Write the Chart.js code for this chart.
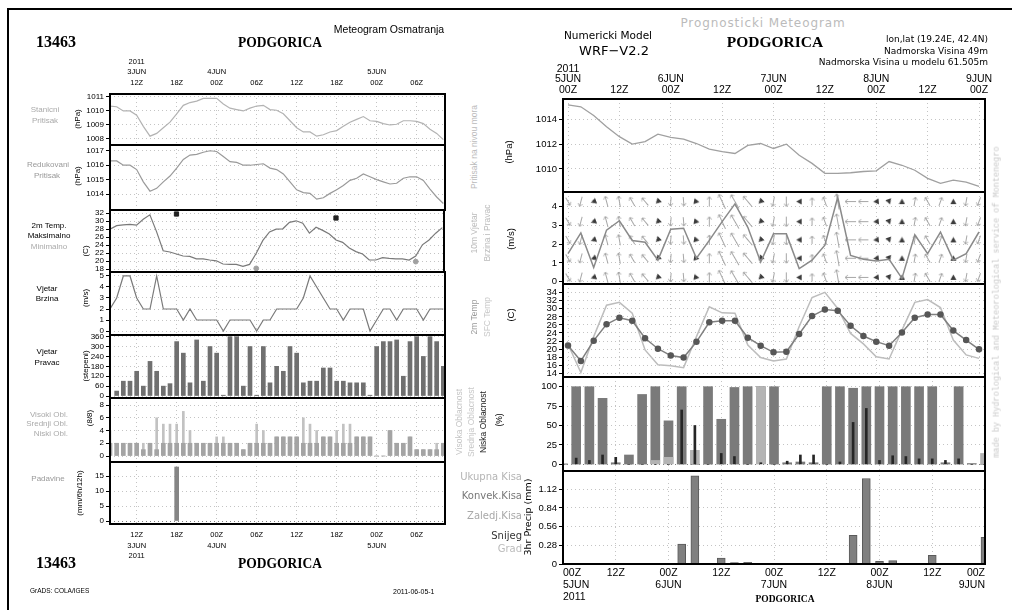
<!DOCTYPE html>
<html>
<head>
<meta charset="utf-8">
<script src="https://cdn.jsdelivr.net/npm/chart.js@4.4.0/dist/chart.umd.min.js"></script>
<style>
  body { margin: 0; background: #fff; }
  #page { position: relative; width: 1012px; height: 610px; overflow: hidden; background: #fff; font-family: 'Liberation Sans', sans-serif; }
  #page canvas { position: absolute; }
  .t { position: absolute; white-space: nowrap; line-height: 1; }
  .line { position: absolute; background: #000; }
</style>
</head>
<body>
<div id="page">
  <div class="line" style="left:7px;top:8px;width:2px;height:602px"></div>
  <div class="line" style="left:7px;top:8px;width:1005px;height:2px"></div>
</div>
<script>
// ---------- observations (left), hours since 3JUN 00Z ----------
const obsHours = [8,9,10,11,12,13,14,15,16,17,18,19,20,21,22,23,24,25,26,27,28,29,30,31,32,33,34,35,36,37,38,39,40,41,42,43,44,45,46,47,48,49,50,51,52,53,54,55,56,57,58];
const obsTickHours = [12, 18, 24, 30, 36, 42, 48, 54];
const obsTickTop = [['2011','3JUN','12Z'], ['18Z'], ['4JUN','00Z'], ['06Z'], ['12Z'], ['18Z'], ['5JUN','00Z'], ['06Z']];
const obsTickBottom = [['12Z','3JUN','2011'], ['18Z'], ['00Z','4JUN'], ['06Z'], ['12Z'], ['18Z'], ['00Z','5JUN'], ['06Z']];

const stationPress = [1010.34,1010.3,1010,1010,1009.7,1008.9,1008.2,1008.4,1008.8,1009.2,1009.8,1010.4,1010.6,1010.7,1010.9,1010.9,1010.9,1010.5,1010.2,1010.1,1010,1010.2,1010.35,1010.4,1010.1,1010.05,1009.8,1009.3,1008.8,1008.5,1008.5,1008.2,1008.3,1008.5,1008.6,1008.9,1009.2,1009.4,1009.6,1009.3,1009.25,1009.1,1009,1009.05,1009.3,1009.3,1009.25,1009.1,1008.7,1008.4,1007.95];
const reducedPress = [1016.3,1016.3,1016,1016,1015.7,1014.85,1014.2,1014.4,1014.85,1015.25,1015.8,1016.4,1016.7,1016.75,1016.9,1017,1016.95,1016.6,1016.25,1016.2,1016,1016,1016.05,1016.1,1015.8,1015.7,1015.4,1014.85,1014.3,1014.1,1014.05,1013.65,1013.75,1014.05,1014.3,1014.6,1014.95,1015.1,1015.4,1015.2,1015,1014.85,1014.7,1014.75,1015.1,1015.2,1015.2,1014.95,1014.35,1013.8,1013.35];
const obsTemp = [28,28.9,29.1,29.2,29,30.5,31.6,27.4,22.6,22.3,21.8,21.3,21.2,20.6,20.6,20.3,20.1,19.3,19.2,19.2,18.7,19.2,22,25.2,27.3,28,28.1,29.7,30.1,29.5,27,28.5,27.7,26.8,25.3,24.7,23.3,22.4,21.8,20.3,20.3,20.9,20.7,20.6,20.6,20.3,21.3,24.1,25.3,27,28.4];
const tMaxHours = [18, 42];
const tMaxVals = [31.8, 30.8];
const tMinHours = [30, 54];
const tMinVals = [18.2, 19.9];
const obsWindSpd = [2,3,5,5,3,2,2,5,2,2,2,1,2,1,1,1,1,0,1,1,1,1,0,1,1,2,2,2,2,3,5,4,3,2,2,1,2,2,2,0,1,2,2,1,2,2,2,1,2,2,2];
const obsWindDir = [null,30,90,90,150,60,210,150,60,75,330,260,80,340,90,300,260,5,360,360,60,300,5,300,80,180,150,300,260,80,90,90,170,170,90,90,80,80,80,5,300,330,330,340,120,330,360,240,360,330,180];
const obsCloudLow = [2,2,2,2,2,1,2,1,2,2,2,2,2,2,2,2,2,2,2,2,1,2,2,2,2,3,3,3,3,2,2,2,3,3,2,2,2,3,3,3,0,0,4,2,2,3,1,1,1,1,2];
const obsCloudHigh = [4,2,2,2,2,2,2,6,5,5,5,7,4,2,2,2,3,3,2,2,1,2,5,4,2,3,3,3,3,6,5,4,3,3,4,5,5,3,3,3,0,0,4,2,2,3,1,1,1,2,2];
const obsPrecipHours = [18];
const obsPrecipVals = [18];

// ---------- forecast (right), hours since 5JUN 00Z ----------
const fcstHours = [0,3,6,9,12,15,18,21,24,27,30,33,36,39,42,45,48,51,54,57,60,63,66,69,72,75,78,81,84,87,90,93,96];
const fcstTickHours = [0, 12, 24, 36, 48, 60, 72, 84, 96];
const fcstTickTop = [['2011','5JUN','00Z'], ['12Z'], ['6JUN','00Z'], ['12Z'], ['7JUN','00Z'], ['12Z'], ['8JUN','00Z'], ['12Z'], ['9JUN','00Z']];
const fcstTickBottom = [['00Z','5JUN','2011'], ['12Z'], ['00Z','6JUN'], ['12Z'], ['00Z','7JUN'], ['12Z'], ['00Z','8JUN'], ['12Z'], ['00Z','9JUN']];

const fcstPress = [1015.15,1015.0,1014.3,1013.4,1012.6,1012.0,1012.2,1012.8,1012.55,1012.4,1012.05,1011.6,1011.4,1011.25,1011.9,1012.05,1011.65,1012.0,1011.1,1010.45,1009.65,1009.65,1009.7,1009.8,1009.85,1010.6,1010.3,1009.9,1009.25,1008.85,1009.1,1008.95,1008.6];
const fcstWindSpd = [1.5,2.6,0.76,2.75,3.25,2.2,2.1,1.15,2.8,2.85,1.25,2.2,3.2,4.15,2.9,1.05,2.55,2.55,0.7,1.15,1.95,4.5,1.4,1.2,1.1,1.2,0.18,2.5,1.5,2.65,1.15,1.5,2.65];
const windVecDir = [150,195,250,345,350,330,320,225,185,175,100,0,335,330,320,225,190,180,270,0,340,350,270,270,265,160,0,10,330,20,0,190,200];
const windVecSpd = [2.7,3,1,3.3,3.3,3,3,1,2.7,2.7,1,3,4.7,4.7,4,1,3,3,1,2.3,3,4.7,3.3,3,1,1,1,2.7,3,2.7,1,2.7,2.7];
const windVecLevels = [0.23, 1.25, 2.23, 3.2, 4.27];
const temp2m = [20.9,17.05,22.1,26.15,27.8,27.05,22.7,20.1,18.4,17.9,21.8,26.65,27.05,27.05,22.85,20.85,19.2,19.35,23.75,28.2,29.85,29.55,25.8,23.25,21.85,20.85,24.1,27.8,28.6,28.6,24.6,22.25,19.95];
const tempSfc = [21.2,14.2,23.1,30.9,31.6,28.9,19.8,16.1,15.9,15.4,23.1,30.5,29.0,28.9,21.0,17.9,17.05,17.55,25.6,32.8,34.1,30.1,23.9,21.3,18.1,17.55,24.7,31.6,32.3,30.3,22.25,18.55,17.7];
const cloudHigh = [0,100,100,85,2,12,90,100,56,100,0,100,58,99,100,100,100,2,3,2,100,100,98,100,100,100,100,100,100,2,100,1,0];
const cloudMid = [1,0,0,0,0,0,0,5,9,0,18,0,0,0,0,100,0,0,0,0,0,0,0,0,0,0,0,0,0,0,0,0,14];
const cloudLow = [0,8,5,12,9,0,0,0,0,70,50,0,14,10,0,2,0,4,12,12,0,3,54,72,5,11,10,7,7,5,7,0,0];
const precip3h = [0,0,0,0,0,0,0,0,0,0.3,1.32,0,0.09,0.02,0.025,0,0,0,0,0,0,0,0.43,1.28,0.04,0.05,0,0,0.13,0,0,0,0.4];

// ---------- helpers ----------
Chart.defaults.font.family = "'Liberation Sans', sans-serif";
const page = document.getElementById('page');
const EXTRA = 8;

const frame = {
  id: 'frame',
  afterDraw(c) {
    const a = c.chartArea, g = c.ctx;
    g.save();
    g.lineWidth = 2;
    g.strokeStyle = '#000';
    g.strokeRect(a.left, a.top, a.right - a.left, a.bottom - a.top);
    g.restore();
  }
};

const pts = (xs, ys) => xs.map((x, i) => ({ x, y: ys[i] }));

function noPad(s) { s.paddingLeft = 0; s.paddingRight = 0; s.paddingTop = 0; s.paddingBottom = 0; }

function panel(p) {
  const padL = p.padL, padR = p.padR || 4, padT = p.padT || 0, padB = p.padB || 0;
  const W = p.w + padL + padR, H = p.h + padT + padB + 2 * EXTRA;
  const cv = document.createElement('canvas');
  cv.width = W; cv.height = H;
  cv.style.left = (p.l - padL) + 'px';
  cv.style.top = (p.t - padT - EXTRA) + 'px';
  page.appendChild(cv);
  const xH = p.xPos === 'top' ? padT : p.xPos === 'bottom' ? padB : 0;
  new Chart(cv, {
    type: 'bar',
    data: { datasets: p.datasets },
    plugins: [frame],
    options: {
      responsive: false, animation: false, devicePixelRatio: 1,
      layout: { padding: { left: 0, right: padR,
        top: EXTRA + (p.xPos === 'top' ? 0 : padT),
        bottom: EXTRA + (p.xPos === 'bottom' ? 0 : padB) } },
      plugins: { legend: { display: false }, tooltip: { enabled: false } },
      scales: {
        x: {
          type: 'linear', position: p.xPos || 'bottom', min: p.xMin, max: p.xMax, offset: false,
          afterBuildTicks: s => { s.ticks = p.xTicks.map(v => ({ value: v })); },
          afterFit: s => { s.height = xH; noPad(s); },
          ticks: { display: !!p.xPos, autoSkip: false, maxRotation: 0, minRotation: 0,
                   align: p.xAlign || 'center',
                   padding: p.xPad || 4, font: p.xFont, color: '#000',
                   callback: v => p.xLabels ? p.xLabels[p.xTicks.indexOf(v)] : '' },
          grid: { color: '#c4c4c4', drawTicks: false, offset: false },
          border: { display: false, dash: [1, 3] }
        },
        y: {
          min: p.yMin, max: p.yMax,
          afterBuildTicks: s => { s.ticks = p.yTicks.map(v => ({ value: v })); },
          afterFit: s => { s.width = padL; noPad(s); },
          ticks: { autoSkip: false, padding: 2, font: p.yFont, color: '#000',
                   callback: v => p.yFmt ? p.yFmt(v) : String(v) },
          grid: { color: c => (p.zeroDark && c.tick && c.tick.value === 0) ? '#808080' : '#c4c4c4',
                  tickColor: '#000', tickLength: 4 },
          border: { display: false, dash: [1, 3] }
        }
      }
    }
  });
}

function line(data, color, width, order, extra) {
  return Object.assign({ type: 'line', data, borderColor: color, borderWidth: width,
    pointRadius: 0, tension: 0, clip: 0, order }, extra || {});
}
function bars(data, color, thick, order, extra) {
  return Object.assign({ type: 'bar', data, backgroundColor: color, barThickness: thick,
    grouped: false, clip: 0, order }, extra || {});
}

const arrowCache = {};
function arrowImg(spd) {
  const dark = spd <= 1.2;
  const key = spd + (dark ? 'd' : 'l');
  if (arrowCache[key]) return arrowCache[key];
  const len = dark ? 5 : Math.round(spd * 3.4);
  const c = document.createElement('canvas');
  c.width = 7; c.height = len + 2;
  const g = c.getContext('2d');
  if (dark) {
    g.fillStyle = '#3c3c3c';
    g.beginPath(); g.moveTo(3.5, 0.5); g.lineTo(6.5, len + 1); g.lineTo(0.5, len + 1); g.closePath(); g.fill();
  } else {
    g.strokeStyle = '#a6a6a6'; g.lineWidth = 1;
    g.beginPath();
    g.moveTo(3.5, len + 1); g.lineTo(3.5, 1);
    g.moveTo(1.2, 3.8); g.lineTo(3.5, 1); g.lineTo(5.8, 3.8);
    g.stroke();
  }
  arrowCache[key] = c;
  return c;
}

// ---------- left: observations ----------
const L = { l: 110, w: 335, padL: 60, xMin: 8, xMax: 58.25, xTicks: obsTickHours,
            yFont: { size: 8 } };
const obsAxisFont = { size: 7.5, lineHeight: '10.5px' };

panel(Object.assign({}, L, { t: 94, h: 51, padT: 40, xPos: 'top', xLabels: obsTickTop, xFont: obsAxisFont, xPad: 6,
  yMin: 1007.57, yMax: 1011.21, yTicks: [1008, 1009, 1010, 1011],
  datasets: [line(pts(obsHours, stationPress), '#b3b3b3', 1.2, 1)] }));

panel(Object.assign({}, L, { t: 145, h: 65,
  yMin: 1012.9, yMax: 1017.4, yTicks: [1014, 1015, 1016, 1017],
  datasets: [line(pts(obsHours, reducedPress), '#9a9a9a', 1.2, 1)] }));

panel(Object.assign({}, L, { t: 210, h: 62,
  yMin: 17.3, yMax: 32.8, yTicks: [18, 20, 22, 24, 26, 28, 30, 32],
  datasets: [
    line(pts(obsHours, obsTemp), '#7a7a7a', 1.2, 2),
    { type: 'scatter', data: pts(tMaxHours, tMaxVals), pointStyle: 'rect', pointRadius: 3,
      backgroundColor: '#222', borderColor: '#222', order: 1 },
    { type: 'scatter', data: pts(tMinHours, tMinVals), pointStyle: 'circle', pointRadius: 2.4,
      backgroundColor: '#a0a0a0', borderColor: '#a0a0a0', order: 1 }
  ] }));

panel(Object.assign({}, L, { t: 272, h: 63,
  yMin: -0.36, yMax: 5.36, yTicks: [0, 1, 2, 3, 4, 5],
  datasets: [line(pts(obsHours, obsWindSpd), '#7a7a7a', 1.2, 1)] }));

panel(Object.assign({}, L, { t: 335, h: 63,
  yMin: -12, yMax: 370, yTicks: [0, 60, 120, 180, 240, 300, 360],
  datasets: [bars(pts(obsHours, obsWindDir), '#707070', 4, 1)] }));

panel(Object.assign({}, L, { t: 398, h: 64,
  yMin: -0.94, yMax: 9.1, yTicks: [0, 2, 4, 6, 8],
  datasets: [
    bars(pts(obsHours, obsCloudHigh), '#c2c2c2', 2, 2),
    bars(pts(obsHours, obsCloudLow), '#a4a4a4', 4, 1)
  ] }));

panel(Object.assign({}, L, { t: 462, h: 62, padB: 40, xPos: 'bottom', xLabels: obsTickBottom, xFont: obsAxisFont, xPad: 6,
  yMin: -1, yMax: 19.67, yTicks: [0, 5, 10, 15], zeroDark: true,
  datasets: [bars(pts(obsPrecipHours, obsPrecipVals), '#858585', 4, 1)] }));

// ---------- right: forecast ----------
const R = { l: 563, w: 422, padL: 60, padR: 14, xTicks: fcstTickHours, yFont: { size: 9.5 } };
const fcstAxisFont = { size: 10.5, lineHeight: '10.5px' };

panel(Object.assign({}, R, { t: 99, h: 93, padT: 40, xPos: 'top', xLabels: fcstTickTop, xFont: fcstAxisFont, xPad: 4,
  xMin: -1.17, xMax: 97.4, yMin: 1008.15, yMax: 1015.63, yTicks: [1010, 1012, 1014],
  datasets: [line(pts(fcstHours, fcstPress), '#a0a0a0', 1.3, 1)] }));

const vecPts = [];
windVecLevels.forEach(lv => fcstHours.forEach((h, i) => vecPts.push({ x: h, y: lv, d: windVecDir[i], s: windVecSpd[i] })));

panel(Object.assign({}, R, { t: 192, h: 92,
  xMin: -1.17, xMax: 97.4, yMin: -0.12, yMax: 4.78, yTicks: [0, 1, 2, 3, 4],
  datasets: [
    { type: 'scatter', data: vecPts, pointRadius: 3, order: 2, clip: 0,
      pointStyle: c => arrowImg(c.raw.s), rotation: c => c.raw.d },
    line(pts(fcstHours, fcstWindSpd), '#8a8a8a', 1.5, 1)
  ] }));

panel(Object.assign({}, R, { t: 284, h: 93,
  xMin: -1.17, xMax: 97.4, yMin: 13.08, yMax: 36.16, yTicks: [14, 16, 18, 20, 22, 24, 26, 28, 30, 32, 34],
  datasets: [
    line(pts(fcstHours, tempSfc), '#bdbdbd', 1.5, 2),
    line(pts(fcstHours, temp2m), '#808080', 1.5, 1,
      { pointRadius: 2.5, pointBackgroundColor: '#575757', pointBorderColor: '#575757' })
  ] }));

panel(Object.assign({}, R, { t: 377, h: 94,
  xMin: 0, xMax: 96, yMin: -8.63, yMax: 112.5, yTicks: [0, 25, 50, 75, 100], zeroDark: true,
  datasets: [
    bars(pts(fcstHours, cloudHigh), '#7a7a7a', 9, 3),
    bars(pts(fcstHours, cloudMid), '#b4b4b4', 9, 2),
    bars(pts(fcstHours, cloudLow), '#262626', 2, 1)
  ] }));

panel(Object.assign({}, R, { t: 471, h: 93.3, padB: 40, xPos: 'bottom', xLabels: fcstTickBottom, xAlign: 'inner',
  xFont: { size: 10.5, lineHeight: '12px' }, xPad: 3,
  xMin: 0, xMax: 96, yMin: 0, yMax: 1.393, yTicks: [0, 0.28, 0.56, 0.84, 1.12], zeroDark: true,
  yFmt: v => v === 0 ? '0' : v.toFixed(2),
  datasets: [bars(pts(fcstHours, precip3h), '#808080', 8, 1, { borderColor: '#5a5a5a', borderWidth: 1 })] }));

// ---------- texts ----------
function txt(s, x, y, o = {}) {
  const d = document.createElement('div');
  d.className = 't';
  d.textContent = s;
  d.style.left = x + 'px';
  d.style.top = y + 'px';
  d.style.fontSize = (o.size || 8) + 'px';
  if (o.font) d.style.fontFamily = o.font;
  if (o.bold) d.style.fontWeight = 'bold';
  if (o.ls) d.style.letterSpacing = o.ls + 'px';
  d.style.color = o.color || '#000';
  let tr = o.align === 'right' ? 'translate(-100%,-50%)' : o.align === 'left' ? 'translate(0,-50%)' : 'translate(-50%,-50%)';
  if (o.rot) tr += ' rotate(-90deg)';
  if (o.sx) tr += ' scaleX(' + o.sx + ')';
  d.style.transform = tr;
  page.appendChild(d);
}
const serif = "'Liberation Serif', serif";
const dv = "'DejaVu Sans', sans-serif";

// left headings
txt('13463', 56, 42, { size: 16, bold: true, font: serif });
txt('PODGORICA', 280, 42, { size: 15, bold: true, font: serif, sx: 0.9 });
txt('Meteogram Osmatranja', 389, 29, { size: 10.5 });
txt('13463', 56, 563, { size: 16, bold: true, font: serif });
txt('PODGORICA', 280, 563, { size: 15, bold: true, font: serif, sx: 0.9 });
txt('GrADS: COLA/IGES', 30, 591, { size: 6.5, align: 'left' });
txt('2011-06-05-1', 393, 591, { size: 7, align: 'left' });

// left side labels
txt('Stanicni', 45, 110, { color: '#aaa' });
txt('Pritisak', 45, 121, { color: '#aaa' });
txt('(hPa)', 78, 119, { rot: true });
txt('Redukovani', 48, 165, { color: '#999' });
txt('Pritisak', 47, 176, { color: '#999' });
txt('(hPa)', 78, 176, { rot: true });
txt('2m Temp.', 49, 226);
txt('Maksimalno', 49, 236);
txt('Minimalno', 49, 247, { color: '#aaa' });
txt('(C)', 86, 251, { rot: true });
txt('Vjetar', 47, 289);
txt('Brzina', 47, 299);
txt('(m/s)', 86, 298, { rot: true });
txt('Vjetar', 47, 352);
txt('Pravac', 47, 363);
txt('(stepeni)', 86, 366, { rot: true });
txt('Visoki Obl.', 68, 415, { color: '#aaa', align: 'right' });
txt('Srednji Obl.', 68, 424, { color: '#aaa', align: 'right' });
txt('Niski Obl.', 68, 434, { color: '#aaa', align: 'right' });
txt('(8/8)', 90, 418, { rot: true });
txt('Padavine', 48, 479, { color: '#999' });
txt('(mm/6h/12h)', 80, 493, { rot: true });

// right headings
txt('Prognosticki Meteogram', 763, 23, { size: 12, font: dv, color: '#bbb', ls: 0.9 });
txt('Numericki Model', 608, 35, { size: 10.5, font: dv });
txt('WRF\u2212V2.2', 614, 50, { size: 13, font: dv });
txt('PODGORICA', 775, 42, { size: 15.5, bold: true, font: serif });
txt('lon,lat (19.24E, 42.4N)', 988, 39, { size: 9, font: dv, align: 'right' });
txt('Nadmorska Visina 49m', 988, 51, { size: 9, font: dv, align: 'right' });
txt('Nadmorska Visina u modelu 61.505m', 988, 62, { size: 9, font: dv, align: 'right' });
txt('PODGORICA', 785, 600, { size: 9.5, bold: true, font: serif });
txt('made by Hydrological and Meteorological service of Montenegro', 997, 302,
    { size: 8.5, font: "'Liberation Mono', monospace", color: '#c8c8c8', rot: true });

// right side labels
txt('Pritisak na nivou mora', 474, 147, { size: 8.5, color: '#bbb', rot: true });
txt('(hPa)', 509, 152, { size: 9.5, rot: true });
txt('10m Vjetar', 474, 233, { size: 8.5, color: '#bbb', rot: true });
txt('Brzina i Pravac', 487, 233, { size: 8.5, color: '#bbb', rot: true });
txt('(m/s)', 511, 239, { size: 9.5, rot: true });
txt('2m Temp', 474, 317, { size: 8.5, color: '#999', rot: true });
txt('SFC Temp', 487, 317, { size: 8.5, color: '#c8c8c8', rot: true });
txt('(C)', 511, 315, { size: 9.5, rot: true });
txt('Visoka Oblacnost', 459, 422, { size: 8.5, color: '#c4c4c4', rot: true });
txt('Srednja Oblacnost', 471, 422, { size: 8.5, color: '#c8c8c8', rot: true });
txt('Niska Oblacnost', 483, 422, { size: 8.5, color: '#222', rot: true });
txt('(%)', 499, 420, { size: 8.5, rot: true });
txt('Ukupna Kisa', 522, 477, { size: 10, font: dv, color: '#b4b4b4', align: 'right' });
txt('Konvek.Kisa', 522, 496, { size: 10, font: dv, color: '#777', align: 'right' });
txt('Zaledj.Kisa', 522, 516, { size: 10, font: dv, color: '#a8a8a8', align: 'right' });
txt('Snijeg', 522, 536, { size: 10, font: dv, color: '#333', align: 'right' });
txt('Grad', 522, 549, { size: 10, font: dv, color: '#bbb', align: 'right' });
txt('3hr Precip (mm)', 528, 517, { size: 9.5, font: dv, rot: true });
</script>
</body>
</html>
